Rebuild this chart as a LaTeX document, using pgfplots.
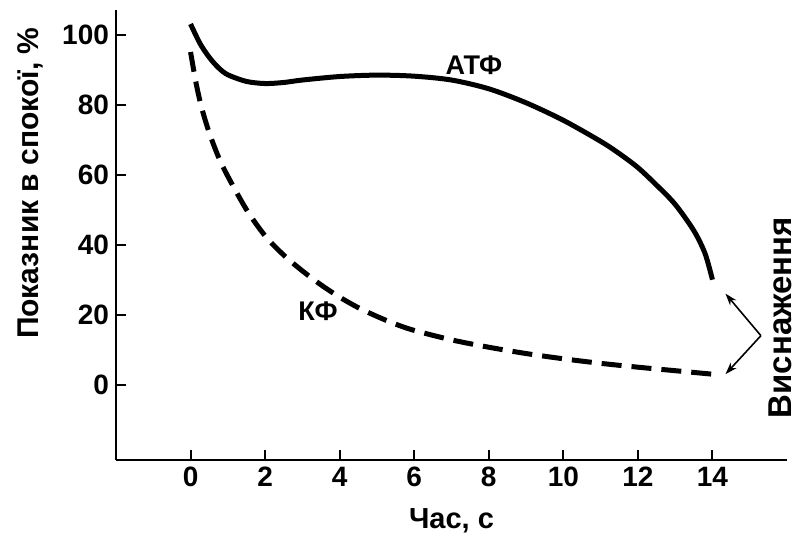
\documentclass[border=0pt]{standalone}
\usepackage{fontspec}
\setmainfont{Liberation Sans}
\usepackage{pgfplots}
\pgfplotsset{compat=1.18}
\usetikzlibrary{arrows.meta}

\begin{document}
\begin{tikzpicture}
% page box in the reference's 797x539 proportions
\useasboundingbox (-58pt,-39.5pt) rectangle (340.5pt,230pt);
\begin{axis}[
    scale only axis, width=335.5pt, height=225pt,
    xmin=-2, xmax=16, ymin=-21.5, ymax=107,
    axis lines=left,
    axis line style={line width=1.1pt, -},
    xtick={0,2,...,14}, ytick={0,20,...,100},
    tick align=inside, major tick length=5pt,
    tick style={line width=1pt, black},
    tick label style={font=\fontsize{14}{16}\selectfont\bfseries},
    /pgf/number format/assume math mode=true,
    clip=false,
    xlabel={Час, с},
    xlabel style={font=\fontsize{14.5}{16}\selectfont\bfseries, yshift=-4pt},
]
% АТФ
\addplot[black, line width=2.5pt, smooth] coordinates {
    (0,103) (0.25,97.5) (0.5,93.5) (0.75,90.5) (1,88.5) (1.5,86.6) (2,86)
    (2.5,86.3) (3,87) (4,88) (5,88.4) (6,88.1) (7,87) (8,84.5) (9,80.5)
    (10,75.5) (11,69.5) (11.5,66) (12,62) (12.5,57) (13,51.5) (13.5,44)
    (13.8,37.5) (14,30)
};
% КФ
\addplot[black, line width=2.5pt, smooth,
    dash pattern=on 10pt off 5pt] coordinates {
    (0,95) (0.15,86) (0.3,79) (0.5,72) (0.75,65) (1,59.5) (1.5,50) (2,42.5)
    (2.5,37) (3,32.5) (3.5,28.5) (4,25) (4.5,22) (5,19.5) (5.5,17.3)
    (6,15.5) (7,12.8) (8,10.7) (9,8.9) (10,7.4) (11,6.1) (12,5) (13,4)
    (14,3)
};
\node[font=\fontsize{13.5}{15}\selectfont\bfseries] at (axis cs:7.6,91.2) {АТФ};
\node[font=\fontsize{13.5}{15}\selectfont\bfseries] at (axis cs:3.42,21) {КФ};
\draw[line width=0.8pt, -{Stealth[length=6pt,width=4pt]}]
    (axis cs:15.3,14) -- (axis cs:14.35,26);
\draw[line width=0.8pt, -{Stealth[length=6pt,width=4pt]}]
    (axis cs:15.3,14) -- (axis cs:14.35,3);
\node[rotate=90, font=\fontsize{16.5}{18}\selectfont\bfseries]
    at (rel axis cs:0.99,0.316) {Виснаження};
\node[rotate=90, font=\fontsize{15}{17}\selectfont\bfseries]
    at (rel axis cs:-0.128,0.615) {Показник в спокої, \%};
\end{axis}
\end{tikzpicture}
\end{document}
